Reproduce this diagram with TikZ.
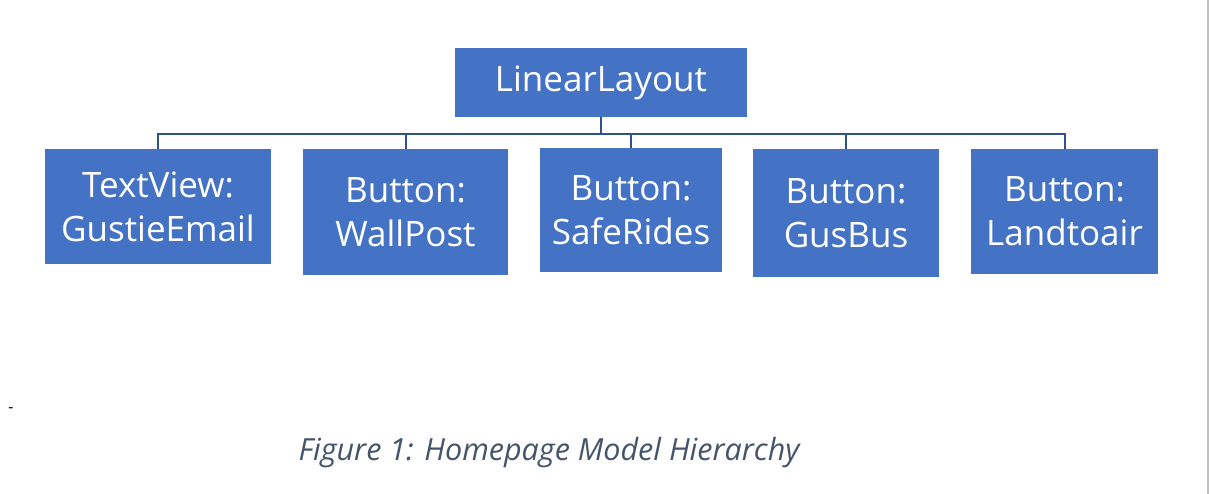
\documentclass[tikz,border=0pt]{standalone}
\usepackage{fontspec}
\setmainfont{Open Sans}
\definecolor{boxblue}{HTML}{4472C4}
\definecolor{linkblue}{HTML}{2F528F}
\definecolor{capgray}{HTML}{44546A}
\begin{document}
\begin{tikzpicture}[x=1pt,y=-1pt,
  box/.style={fill=boxblue, draw=none, text=white, align=center, inner sep=0pt,
    font=\fontsize{35}{44}\selectfont},
  link/.style={draw=linkblue, line width=2pt}]
\useasboundingbox[fill=white] (0,0) rectangle (1209,494);
\node[box, minimum width=292pt, minimum height=69pt] (top) at (601,82.5) {LinearLayout};
\node[box, minimum width=226pt, minimum height=115pt] (b1) at (158,206.5) {TextView:\\GustieEmail};
\node[box, minimum width=205pt, minimum height=126pt] (b2) at (405.5,212) {Button:\\WallPost};
\node[box, minimum width=182pt, minimum height=124pt] (b3) at (631,210) {Button:\\SafeRides};
\node[box, minimum width=186pt, minimum height=128pt] (b4) at (846,213) {Button:\\GusBus};
\node[box, minimum width=187pt, minimum height=125pt] (b5) at (1064.5,211.5) {Button:\\Landtoair};
\coordinate (bus) at (601,134);
\draw[link] (top.south) -- (bus);
\foreach \b in {b1,b2,b3,b4,b5} \draw[link] (bus) -| (\b.north);
\draw[gray!50, line width=1.5pt] (1208,0) -- (1208,494);
\node[font=\fontsize{16}{18}\selectfont, inner sep=0pt] (dash) at (11,410) {-};
\node[font=\fontsize{30.5}{36}\selectfont\itshape, text=capgray, inner sep=0pt] (cap) at (549,453) {Figure 1: Homepage Model Hierarchy};
\end{tikzpicture}
\end{document}
